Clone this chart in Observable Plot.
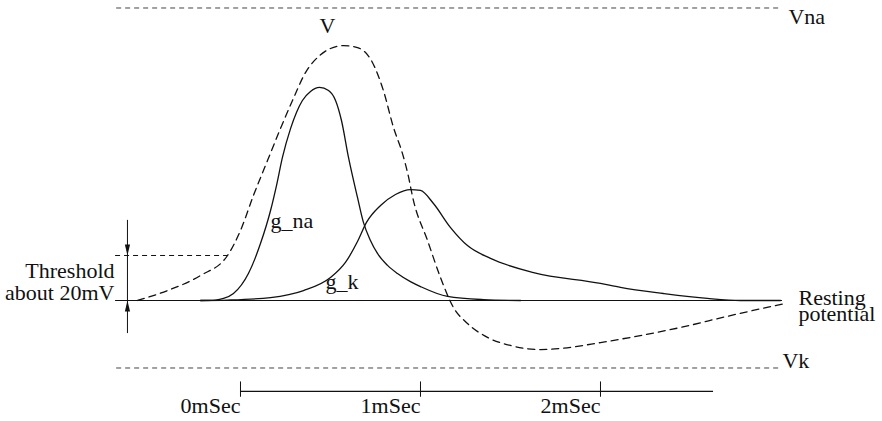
<!DOCTYPE html>
<html><head><meta charset="utf-8">
<script src="https://cdn.jsdelivr.net/npm/d3@7"></script>
<script src="https://cdn.jsdelivr.net/npm/@observablehq/plot@0.6"></script>
<style>html,body{margin:0;padding:0;background:#fff;} svg{display:block} svg text{font-family:"Liberation Serif","Times New Roman",serif !important;}</style>
</head><body><div id="chart"></div>
<script>
// Membrane potential V (mV) over time (ms)
const tV = [-0.572,-0.406,-0.222,-0.072,0,0.072,0.150,0.222,0.294,0.361,0.433,0.5,0.572,0.65,0.733,0.794,0.85,0.9,0.928,0.961,1.039,1.111,1.183,1.261,1.372,1.5,1.667,1.778,2.0,2.167,2.444,2.722,3.028];
const vV = [-70,-65.6,-58.9,-50,-38.9,-23.3,-7.8,6.4,19.8,31.3,38.4,42,43.3,42.4,35.8,23.3,6.9,-4.7,-13.1,-25.6,-43.3,-59.8,-73.1,-80.2,-86.4,-90,-91.8,-91.3,-88.7,-86.4,-82,-76.7,-71.3];
// Sodium conductance (drawn height above rest, mV-equivalent units)
const tNa = [-0.222,-0.139,-0.094,-0.039,0.044,0.111,0.167,0.2,0.233,0.278,0.311,0.344,0.389,0.439,0.489,0.528,0.561,0.6,0.65,0.683,0.722,0.761,0.817,0.872,0.944,1.0,1.15,1.35,1.556];
const gNa = [0,0.2,0.9,3.1,12,25.3,40,51.1,63.6,76.4,83.6,88.9,92.9,94.7,93.3,88.9,80,63.6,45.8,34.7,26.7,20.9,15.6,12,8.4,6.2,1.8,0.4,0];
// Potassium conductance (drawn height above rest)
const tK = [-0.222,-0.072,0.167,0.35,0.5,0.583,0.65,0.7,0.778,0.861,0.944,1.0,1.072,1.167,1.261,1.389,1.628,2.0,2.111,2.35,2.594,2.778,3.0];
const gK = [0,0.2,1.3,4.4,10.2,16.9,26.2,34.7,42.2,47.1,49.3,48.9,43.1,32.4,24.4,18.7,12.4,7.6,5.8,3.1,0.9,0,0];
// Reference levels (mV)
const REST = -70, THRESH = -50, VNA = 60, VK = -100;
// Time axis
const timeTicks = [0, 1, 2];
const timeTickLabels = ["0mSec", "1mSec", "2mSec"];
const timeAxisEnd = 2.628;

const vData = tV.map((t, i) => ({t, v: vV[i]}));
const naData = tNa.map((t, i) => ({t, v: REST + gNa[i]}));
const kData = tK.map((t, i) => ({t, v: REST + gK[i]}));

const LEFT = -0.694, RIGHT = 3.0;
const ARROW_T = -0.628;
const font = "'Liberation Serif', 'Times New Roman', serif";
const ink = "#111";

const arrowHead = {
  draw(ctx) { ctx.moveTo(0, 0); ctx.lineTo(-2.6, -11); ctx.lineTo(2.6, -11); ctx.closePath(); }
};
const T = {fontSize: 22, fontFamily: font, fill: ink, lineAnchor: "bottom"};

const chart = Plot.plot({
  width: 882, height: 421,
  marginTop: 0, marginRight: 0, marginBottom: 0, marginLeft: 0,
  x: {domain: [-1.3333, 3.5667], axis: null},
  y: {domain: [-123.78, 63.33], axis: null},
  style: {fontFamily: font, background: "#fff", color: ink},
  marks: [
    // Vna / Vk levels
    Plot.ruleY([VNA], {x1: LEFT + 0.006, x2: RIGHT, stroke: "#444", strokeWidth: 1, strokeDasharray: "5,4"}),
    Plot.ruleY([VK], {x1: LEFT + 0.006, x2: RIGHT, stroke: "#444", strokeWidth: 1, strokeDasharray: "5,4"}),
    // Threshold level
    Plot.ruleY([THRESH], {x1: LEFT, x2: -0.072, stroke: ink, strokeWidth: 1, strokeDasharray: "5,4"}),
    // Resting baseline
    Plot.ruleY([REST], {x1: LEFT, x2: 3.011, stroke: ink, strokeWidth: 1.2}),
    // Threshold measure arrow
    Plot.ruleX([ARROW_T], {y1: -34.4, y2: -84.7, stroke: ink, strokeWidth: 1}),
    Plot.dot([{t: ARROW_T, v: THRESH}], {x: "t", y: "v", symbol: arrowHead, fill: ink, stroke: "none"}),
    Plot.dot([{t: ARROW_T, v: REST}], {x: "t", y: "v", symbol: arrowHead, fill: ink, stroke: "none", rotate: 180}),
    // Curves
    Plot.line(naData, {x: "t", y: "v", stroke: ink, strokeWidth: 1.3, curve: "monotone-x"}),
    Plot.line(kData, {x: "t", y: "v", stroke: ink, strokeWidth: 1.3, curve: "monotone-x"}),
    Plot.line(vData, {x: "t", y: "v", stroke: ink, strokeWidth: 1.3, strokeDasharray: "7,5", curve: "monotone-x"}),
    // Time scale bar
    Plot.ruleY([-110.4], {x1: 0, x2: timeAxisEnd, stroke: ink, strokeWidth: 1.2}),
    Plot.ruleX(timeTicks, {y1: -106.2, y2: -113, stroke: ink, strokeWidth: 1}),
    Plot.text(timeTicks, {x: d => d, y: -120.2, text: (d, i) => timeTickLabels[i], textAnchor: "end", ...T}),
    // Labels
    Plot.text([{t: 0.483, v: 48.7, s: "V"}], {x: "t", y: "v", text: "s", textAnchor: "middle", ...T}),
    Plot.text([
      {t: 3.044, v: 52.7, s: "Vna"},
      {t: 3.011, v: -100.2, s: "Vk"},
      {t: 0.167, v: -37.6, s: "g_na"},
      {t: 0.472, v: -64.7, s: "g_k"}
    ], {x: "t", y: "v", text: "s", textAnchor: "start", ...T}),
    Plot.text([{t: 3.1, v: -79.3, s: "Resting\npotential"}], {x: "t", y: "v", text: "s", textAnchor: "start", lineHeight: 0.76, ...T}),
    Plot.text([{t: -0.7, v: -69.6, s: "Threshold\nabout 20mV"}], {x: "t", y: "v", text: "s", textAnchor: "end", lineHeight: 0.98, ...T})
  ]
});
document.getElementById("chart").appendChild(chart);
</script></body></html>
